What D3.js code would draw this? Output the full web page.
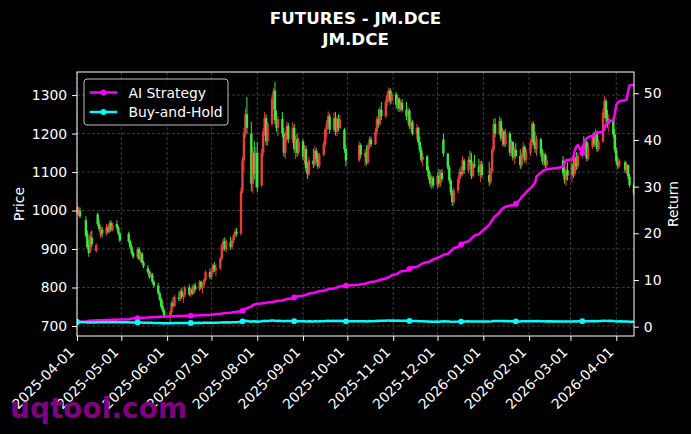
<!DOCTYPE html>
<html><head><meta charset="utf-8">
<script src="https://cdn.jsdelivr.net/npm/d3@7"></script>
<style>html,body{margin:0;padding:0;background:#000;} svg{display:block;font-family:"DejaVu Sans",sans-serif;}</style>
</head><body><svg id="chart" width="691" height="434"></svg>
<script>
const titleLines = ["FUTURES - JM.DCE", "JM.DCE"];
const seriesNames = ["AI Strategy", "Buy-and-Hold"];
const priceTicks = [700, 800, 900, 1000, 1100, 1200, 1300];
const returnTicks = [0, 10, 20, 30, 40, 50];
const firstDay = "2025-04-01", lastDay = "2026-04-13";
const holidays = ["2025-04-04","2025-05-01","2025-05-02","2025-05-05","2025-06-02",
  "2025-10-01","2025-10-02","2025-10-03","2025-10-06","2025-10-07","2025-10-08",
  "2026-01-01","2026-01-02","2026-02-16","2026-02-17","2026-02-18","2026-02-19","2026-02-20","2026-02-23","2026-04-06"];
const markEvery = 25;

// daily candles [open, high, low, close], one row per trading day
const priceOHLC = [
 // Apr 2025
 [1005,1012,990,995],[992,1010,985,1003],[1000,1008,980,985],[975,985,930,935],[940,948,900,905],
 [910,925,880,890],[895,945,890,935],[930,948,905,912],[895,915,890,910],[990,995,960,965],
 [965,975,945,952],[935,960,928,955],[950,958,930,940],[940,965,935,958],[955,962,940,945],
 [945,972,942,965],[968,975,945,950],[950,968,946,962],[965,975,950,955],[955,960,935,940],[940,945,918,922],
 // May
 [940,945,915,920],[920,925,900,905],[905,912,885,890],[890,895,875,880],[880,905,875,900],
 [900,905,870,875],[878,895,865,890],[888,892,860,865],[865,870,850,855],[850,858,835,840],
 [840,845,822,828],[830,842,825,835],[832,838,810,815],[815,820,800,805],[805,812,780,785],
 [785,790,765,770],[770,775,745,750],[752,765,735,740],[740,745,720,725],
 // Jun
 [722,740,705,735],[735,765,730,760],[760,775,748,752],[752,780,750,775],[775,790,765,770],
 [770,795,765,790],[790,800,770,775],[775,785,760,780],[780,805,775,800],[800,808,778,782],
 [782,800,775,795],[795,805,780,785],[785,810,782,805],[805,812,790,795],[795,820,790,815],
 [815,818,795,800],[800,812,785,808],[808,825,800,820],[820,845,815,840],[840,850,822,828],
 // Jul
 [828,845,820,840],[840,862,835,858],[858,866,840,845],[845,860,830,850],[850,880,845,875],
 [875,915,870,910],[910,928,895,920],[920,930,895,900],[900,925,892,918],[918,932,898,905],
 [905,928,900,922],[922,940,915,935],[935,952,930,945],[945,955,932,940],[940,1060,935,1050],
 [1050,1140,1045,1130],[1130,1215,1100,1200],[1200,1265,1190,1250],[1250,1295,1200,1215],[1200,1230,1050,1070],
 [1070,1165,1045,1150],[1150,1180,1080,1095],[1095,1165,1060,1150],
 // Aug
 [1150,1178,1048,1060],[1065,1160,1060,1150],[1150,1215,1140,1205],[1205,1256,1195,1240],[1240,1250,1170,1180],
 [1180,1230,1168,1225],[1225,1300,1220,1290],[1290,1318,1262,1310],[1312,1334,1225,1235],[1235,1260,1205,1215],
 [1215,1245,1193,1238],[1238,1256,1190,1200],[1200,1215,1140,1150],[1150,1205,1134,1195],[1195,1230,1180,1220],
 [1220,1228,1175,1185],[1185,1230,1175,1215],[1215,1225,1150,1160],[1160,1195,1134,1185],[1185,1200,1140,1150],
 [1150,1190,1145,1180],
 // Sep
 [1180,1185,1130,1140],[1140,1170,1120,1160],[1160,1168,1100,1110],[1110,1125,1082,1095],[1095,1140,1090,1130],
 [1130,1160,1110,1120],[1120,1168,1115,1155],[1155,1162,1125,1135],[1135,1150,1108,1115],[1115,1150,1110,1145],
 [1145,1180,1140,1172],[1172,1215,1165,1210],[1210,1235,1190,1225],[1225,1258,1215,1245],[1245,1252,1200,1210],
 [1210,1255,1205,1240],[1240,1256,1195,1205],[1205,1245,1193,1238],[1238,1250,1205,1215],[1215,1248,1210,1235],
 [1210,1215,1150,1160],[1160,1170,1115,1130],
 // Oct
 [1130,1180,1126,1170],[1170,1175,1135,1145],[1140,1160,1115,1150],[1150,1170,1118,1125],[1125,1175,1120,1168],
 [1168,1193,1160,1185],[1185,1192,1165,1172],[1172,1215,1170,1205],[1205,1245,1195,1238],[1238,1264,1215,1225],
 [1225,1270,1220,1262],[1262,1282,1235,1245],[1245,1290,1240,1282],[1282,1310,1270,1300],[1300,1320,1280,1312],
 [1312,1318,1275,1285],[1285,1310,1278,1302],
 // Nov
 [1302,1308,1265,1275],[1275,1300,1260,1290],[1290,1295,1256,1265],[1265,1285,1258,1280],[1280,1290,1255,1262],
 [1262,1282,1235,1245],[1245,1270,1225,1260],[1260,1265,1212,1220],[1220,1240,1205,1230],[1230,1235,1195,1200],
 [1200,1225,1186,1215],[1215,1218,1170,1178],[1178,1193,1150,1158],[1158,1165,1125,1132],[1132,1150,1115,1140],
 [1140,1145,1100,1105],[1105,1115,1080,1088],[1088,1100,1062,1070],[1070,1092,1056,1085],[1085,1090,1058,1065],
 // Dec
 [1065,1100,1056,1090],[1090,1108,1060,1070],[1070,1105,1062,1098],[1098,1108,1075,1082],[1185,1199,1140,1148],
 [1148,1150,1105,1112],[1112,1118,1070,1078],[1078,1085,1040,1048],[1048,1055,1012,1022],[1022,1060,1015,1052],
 [1052,1090,1045,1082],[1082,1108,1070,1100],[1100,1115,1088,1095],[1095,1142,1090,1130],[1130,1135,1095,1105],
 [1105,1140,1098,1132],[1132,1155,1115,1125],[1125,1150,1082,1090],[1090,1130,1085,1120],[1120,1145,1110,1115],
 [1115,1134,1090,1100],[1100,1128,1074,1120],[1120,1130,1085,1092],
 // Jan 2026
 [1092,1126,1064,1075],[1075,1110,1068,1102],[1102,1165,1098,1158],[1158,1238,1150,1225],[1225,1240,1190,1200],
 [1200,1245,1195,1232],[1232,1240,1180,1188],[1188,1215,1168,1205],[1205,1210,1165,1172],[1172,1212,1165,1200],
 [1200,1205,1142,1150],[1150,1185,1142,1178],[1178,1180,1130,1138],[1138,1165,1120,1158],[1158,1175,1135,1142],
 [1142,1160,1108,1118],[1118,1150,1110,1145],[1145,1178,1138,1165],[1165,1170,1125,1132],[1132,1160,1120,1150],
 // Feb
 [1150,1185,1142,1175],[1175,1232,1165,1225],[1225,1230,1170,1178],[1178,1205,1150,1160],[1160,1195,1142,1185],
 [1185,1190,1140,1148],[1148,1160,1120,1128],[1128,1155,1115,1145],[1145,1150,1110,1118],[1118,1140,1108,1130],
 [1130,1142,1090,1098],[1098,1120,1070,1080],[1080,1115,1064,1105],[1105,1125,1078,1090],
 // Mar
 [1090,1130,1074,1120],[1120,1140,1085,1095],[1095,1145,1090,1138],[1138,1152,1105,1115],[1115,1150,1108,1142],
 [1142,1175,1135,1168],[1168,1193,1150,1158],[1158,1185,1140,1178],[1178,1182,1128,1135],[1135,1175,1130,1165],
 [1165,1200,1160,1192],[1192,1205,1165,1172],[1172,1212,1168,1200],[1200,1208,1152,1160],[1160,1185,1155,1180],
 [1180,1265,1175,1255],[1255,1297,1240,1285],[1285,1290,1230,1240],[1240,1262,1215,1225],[1225,1250,1204,1238],
 [1238,1245,1190,1198],[1198,1212,1150,1158],
 // Apr 2026
 [1158,1165,1120,1128],[1128,1140,1108,1115],[1115,1135,1110,1130],[1125,1130,1098,1105],[1105,1126,1095,1118],
 [1118,1120,1080,1088],[1088,1095,1060,1066],[1066,1072,1038,1045]
];

// AI strategy cumulative return, one value per trading day
const aiStrategy = [
 1.00,1.02,1.05,1.10,1.18,1.25,1.28,1.30,1.32,1.35,1.36,1.38,1.40,1.42,1.43,1.45,1.47,1.48,1.50,1.52,1.55,
 1.60,1.65,1.72,1.78,1.82,1.85,1.87,1.90,1.92,1.95,1.97,2.00,2.02,2.05,2.07,2.10,2.12,2.15,2.18,
 2.20,2.22,2.24,2.25,2.27,2.28,2.30,2.31,2.32,2.33,2.35,2.36,2.38,2.40,2.42,2.44,2.46,2.48,2.50,2.52,
 2.55,2.60,2.65,2.70,2.75,2.80,2.85,2.90,2.95,3.00,3.05,3.10,3.15,3.20,3.30,3.40,3.55,3.75,4.00,4.30,4.60,4.75,4.85,
 4.90,4.95,5.00,5.05,5.10,5.20,5.30,5.35,5.40,5.50,5.55,5.60,5.70,5.80,5.90,6.00,6.10,6.25,6.40,6.45,6.50,
 6.60,6.70,6.80,6.95,7.10,7.20,7.30,7.40,7.50,7.60,7.70,7.80,7.90,8.00,8.10,8.20,8.30,8.40,8.50,8.60,8.70,8.80,
 9.00,9.10,9.20,9.30,9.40,9.50,9.60,9.70,9.80,9.90,10.0,10.1,10.3,10.5,10.6,10.8,11.0,
 11.2,11.4,11.6,11.8,11.9,12.0,12.2,12.4,12.6,12.7,12.8,13.0,13.2,13.4,13.6,13.8,13.9,14.0,14.2,14.4,
 14.7,14.9,15.0,15.2,15.4,15.6,15.9,16.2,16.5,16.8,17.1,17.4,17.6,17.8,18.0,18.3,18.6,18.9,19.2,19.5,19.8,20.1,20.4,
 21.8,22.3,22.8,23.3,23.6,24.5,25.0,25.3,25.5,25.7,25.9,26.0,26.0,26.2,26.3,27.3,27.8,28.1,28.4,28.8,
 29.7,30.0,30.4,30.8,32.2,33.0,33.3,33.5,33.6,33.7,34.2,35.0,35.7,35.7,
 35.8,36.5,37.8,38.6,38.9,37.2,38.8,40.0,40.3,40.6,40.9,41.0,41.3,41.5,41.6,41.8,42.5,43.3,43.8,44.0,44.2,45.5,
 47.5,48.0,48.3,48.5,48.7,50.5,51.7,51.8
];

// ---- trading calendar (weekdays minus exchange holidays) ----
const hol = new Set(holidays);
const dates = [];
for (let t = Date.parse(firstDay); t <= Date.parse(lastDay); t += 86400000) {
  const d = new Date(t), wd = d.getUTCDay(), s = d.toISOString().slice(0, 10);
  if (wd > 0 && wd < 6 && !hol.has(s)) dates.push(d);
}
const n = Math.min(dates.length, priceOHLC.length, aiStrategy.length);
const rows = d3.range(n).map(i => ({
  date: dates[i], o: priceOHLC[i][0], h: priceOHLC[i][1], l: priceOHLC[i][2], c: priceOHLC[i][3],
  ai: aiStrategy[i], bh: priceOHLC[i][3] / priceOHLC[0][3], i
}));

// ---- layout ----
const L = 77, R = 634, T = 72, B = 336;
const FS = 13.9;
const svg = d3.select("#chart");
svg.append("rect").attr("width", 691).attr("height", 434).attr("fill", "#000");

const x = d3.scaleUtc().domain([dates[0], dates[n - 1]]).range([L, R]);
const yP = d3.scaleLinear().domain([674, 1360]).range([B, T]);
const yR = d3.scaleLinear().domain([-2.0, 54.56]).range([B, T]);
const monthTicks = d3.utcMonth.range(d3.utcMonth.ceil(dates[0]), d3.utcDay.offset(dates[n - 1], 1));

svg.append("clipPath").attr("id", "plotclip").append("rect")
  .attr("x", L).attr("y", T).attr("width", R - L).attr("height", B - T);

// grid
const grid = svg.append("g").attr("stroke", "#4a4a4a").attr("stroke-width", 0.8).attr("stroke-dasharray", "3,2");
grid.selectAll("line.v").data(monthTicks).join("line").attr("class", "v")
  .attr("x1", d => x(d)).attr("x2", d => x(d)).attr("y1", T).attr("y2", B);
grid.selectAll("line.h").data(priceTicks).join("line").attr("class", "h")
  .attr("x1", L).attr("x2", R).attr("y1", d => yP(d)).attr("y2", d => yP(d));

// candles
const plot = svg.append("g").attr("clip-path", "url(#plotclip)");
const upC = "#ff4545", dnC = "#45ff45";
const cg = plot.append("g").attr("opacity", 0.9);
cg.selectAll("line").data(rows).join("line")
  .attr("x1", d => x(d.date)).attr("x2", d => x(d.date))
  .attr("y1", d => yP(d.h)).attr("y2", d => yP(d.l))
  .attr("stroke", d => d.c >= d.o ? upC : dnC).attr("stroke-width", 1);
cg.selectAll("rect").data(rows).join("rect")
  .attr("x", d => x(d.date) - 1.2).attr("width", 2.4)
  .attr("y", d => yP(Math.max(d.o, d.c)))
  .attr("height", d => Math.max(1, yP(Math.min(d.o, d.c)) - yP(Math.max(d.o, d.c))))
  .attr("fill", d => d.c >= d.o ? upC : dnC);

// return lines
const series = [
  { key: "ai", color: "#ff00ff", name: seriesNames[0] },
  { key: "bh", color: "#00ffff", name: seriesNames[1] }
];
series.forEach(s => {
  const line = d3.line().x(d => x(d.date)).y(d => yR(d[s.key]));
  plot.append("path").datum(rows).attr("d", line).attr("fill", "none")
    .attr("stroke", s.color).attr("stroke-width", 2.5).attr("stroke-linejoin", "round");
  plot.selectAll(null).data(rows.filter(d => d.i % markEvery === 0)).join("circle")
    .attr("cx", d => x(d.date)).attr("cy", d => yR(d[s.key])).attr("r", 2.9).attr("fill", s.color);
});

// frame
svg.append("rect").attr("x", L).attr("y", T).attr("width", R - L).attr("height", B - T)
  .attr("fill", "none").attr("stroke", "#fff").attr("stroke-width", 1);

// axes
function styleAxis(g) {
  g.select(".domain").remove();
  g.selectAll(".tick line").attr("stroke", "#fff");
  g.selectAll(".tick text").attr("fill", "#fff").attr("font-size", FS).attr("font-family", "DejaVu Sans");
}
svg.append("g").attr("transform", `translate(${L},0)`)
  .call(d3.axisLeft(yP).tickValues(priceTicks).tickFormat(d3.format("d")).tickSize(4.9).tickPadding(4.9)).call(styleAxis);
svg.append("g").attr("transform", `translate(${R},0)`)
  .call(d3.axisRight(yR).tickValues(returnTicks).tickFormat(d3.format("d")).tickSize(4.9).tickPadding(4.9)).call(styleAxis);
const xg = svg.append("g").attr("transform", `translate(0,${B})`)
  .call(d3.axisBottom(x).tickValues(monthTicks).tickFormat(d3.utcFormat("%Y-%m-%d")).tickSize(4.9)).call(styleAxis);
xg.selectAll(".tick text").attr("text-anchor", "end").attr("x", 0).attr("y", 0).attr("dy", "0.35em")
  .attr("transform", "translate(-5.8,13.5) rotate(-45)");

// axis labels
svg.append("text").attr("transform", `translate(19,${(T + B) / 2}) rotate(-90)`)
  .attr("text-anchor", "middle").attr("dominant-baseline", "central")
  .attr("fill", "#fff").attr("font-size", FS).text("Price");
svg.append("text").attr("transform", `translate(673,${(T + B) / 2}) rotate(-90)`)
  .attr("text-anchor", "middle").attr("dominant-baseline", "central")
  .attr("fill", "#fff").attr("font-size", FS).text("Return");

// title
svg.selectAll("text.title").data(titleLines).join("text").attr("class", "title")
  .attr("x", (L + R) / 2).attr("y", (d, i) => 24 + i * 21)
  .attr("text-anchor", "middle").attr("fill", "#fff").attr("font-weight", "bold")
  .attr("font-size", 16.7).text(d => d);

// legend
const lg = svg.append("g");
lg.append("rect").attr("x", 84).attr("y", 79).attr("width", 144).attr("height", 46).attr("rx", 3)
  .attr("fill", "#000").attr("fill-opacity", 0.8).attr("stroke", "#bdbdbd").attr("stroke-width", 1);
series.forEach((s, i) => {
  const yy = 92.5 + i * 19.5;
  lg.append("line").attr("x1", 89.6).attr("x2", 117.4).attr("y1", yy).attr("y2", yy)
    .attr("stroke", s.color).attr("stroke-width", 2.5);
  lg.append("circle").attr("cx", 103.5).attr("cy", yy).attr("r", 2.9).attr("fill", s.color);
  lg.append("text").attr("x", 128.5).attr("y", yy).attr("dominant-baseline", "central")
    .attr("fill", "#fff").attr("font-size", FS).text(s.name);
});

// watermark
svg.append("text").attr("x", 10).attr("y", 418).attr("fill", "#800080")
  .attr("font-weight", "bold").attr("font-size", 28).text("uqtool.com");
</script></body></html>
